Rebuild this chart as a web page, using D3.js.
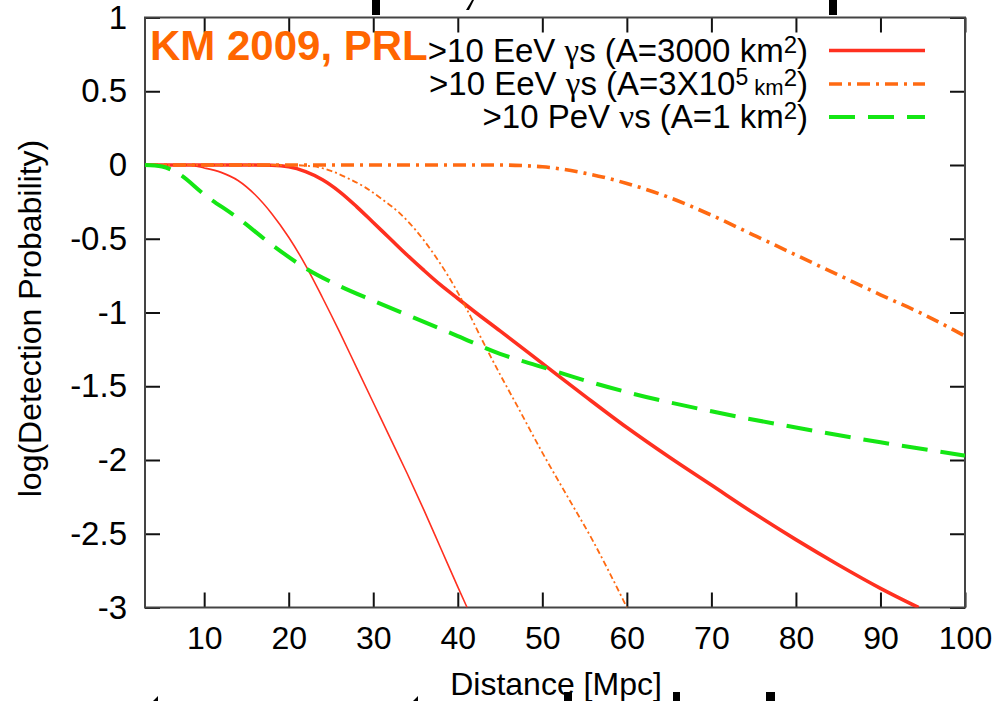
<!DOCTYPE html>
<html>
<head>
<meta charset="utf-8">
<script src="https://cdn.jsdelivr.net/npm/d3@7"></script>
<style>
  html, body { margin: 0; padding: 0; background: #fff; }
  svg { display: block; }
  text { font-family: "Liberation Sans", Arial, Helvetica, sans-serif; }
</style>
</head>
<body>
<svg id="chart" width="999" height="701"></svg>
<script>
// Axis ticks
const xTicks = [10, 20, 30, 40, 50, 60, 70, 80, 90, 100];
const yTicks = [1, 0.5, 0, -0.5, -1, -1.5, -2, -2.5, -3];

// >10 EeV gammas, A = 3000 km^2 (thick solid red)
const gamma3000X = [3, 10, 15, 18, 20, 22, 24, 26, 28, 30, 32, 34, 36, 38, 40, 42, 45, 50, 55, 60, 65, 70, 75, 80, 85, 90, 94.5];
const gamma3000Y = [0, 0, 0, -0.002, -0.012, -0.045, -0.1, -0.18, -0.28, -0.39, -0.5, -0.61, -0.715, -0.815, -0.905, -0.995, -1.125, -1.345, -1.565, -1.78, -1.98, -2.17, -2.36, -2.54, -2.71, -2.87, -3.0];

// companion thin solid red curve
const gammaThinX = [3, 8, 10, 12, 14, 16, 18, 20, 22, 24, 26, 28, 30, 32, 34, 36, 38, 40, 41.1];
const gammaThinY = [0, 0, -0.02, -0.05, -0.105, -0.2, -0.33, -0.49, -0.68, -0.9, -1.13, -1.37, -1.61, -1.85, -2.09, -2.34, -2.6, -2.86, -3.0];

// >10 EeV gammas, A = 3x10^5 km^2 (thick dash-dot orange)
const gamma3e5X = [3, 20, 40, 45, 48, 50, 55, 60, 65, 70, 75, 80, 85, 90, 95, 100];
const gamma3e5Y = [0, 0, 0, 0, -0.005, -0.012, -0.055, -0.125, -0.22, -0.34, -0.475, -0.61, -0.745, -0.88, -1.01, -1.16];

// companion thin dash-dot orange curve
const gammaThin3e5X = [3, 20, 23, 25, 27, 29, 31, 33, 35, 37, 39, 41, 43, 45, 47, 50, 53, 56, 58, 60];
const gammaThin3e5Y = [0, 0, -0.01, -0.04, -0.09, -0.15, -0.23, -0.32, -0.44, -0.59, -0.765, -0.97, -1.2, -1.42, -1.63, -1.95, -2.25, -2.55, -2.77, -3.0];

// >10 PeV neutrinos, A = 1 km^2 (dashed green)
const nuX = [3, 5, 7, 10, 14, 18, 22, 26, 30, 35, 40, 45, 50, 55, 60, 70, 80, 90, 100];
const nuY = [0, -0.01, -0.06, -0.2, -0.36, -0.54, -0.7, -0.82, -0.92, -1.04, -1.16, -1.28, -1.37, -1.46, -1.54, -1.67, -1.78, -1.88, -1.97];

const svg = d3.select("#chart");
const plotLeft = 145, plotRight = 965, plotTop = 17.5, plotBottom = 607.5;

const x = d3.scaleLinear().domain([3, 100]).range([plotLeft, plotRight]);
const y = d3.scaleLinear().domain([-3, 1]).range([plotBottom, plotTop]);

const FONT = 32;
const TICK = 15;

// clip region for the curves
svg.append("defs").append("clipPath").attr("id", "plotClip")
  .append("rect").attr("x", plotLeft).attr("y", plotTop)
  .attr("width", plotRight - plotLeft).attr("height", plotBottom - plotTop);

// axes with inward ticks on all four sides
function styleAxis(size) {
  return g => {
    g.select(".domain").remove();
    g.selectAll(".tick line").attr("stroke", "#111").attr("stroke-width", 2);
    g.selectAll(".tick text").attr("fill", "#000")
      .style("font-family", '"Liberation Sans", Arial, sans-serif')
      .style("font-size", size + "px");
  };
}

svg.append("g").attr("transform", `translate(0,${plotBottom})`)
  .call(d3.axisBottom(x).tickValues(xTicks).tickSize(-TICK).tickPadding(19).tickFormat(d3.format("d")))
  .call(styleAxis(FONT));
svg.append("g").attr("transform", `translate(0,${plotTop})`)
  .call(d3.axisTop(x).tickValues(xTicks).tickSize(-TICK).tickFormat(""))
  .call(styleAxis(FONT));
svg.append("g").attr("transform", `translate(${plotLeft},0)`)
  .call(d3.axisLeft(y).tickValues(yTicks).tickSize(-TICK).tickPadding(18).tickFormat(d => String(d)))
  .call(styleAxis(33));
svg.append("g").attr("transform", `translate(${plotRight},0)`)
  .call(d3.axisRight(y).tickValues(yTicks).tickSize(-TICK).tickFormat(""))
  .call(styleAxis(FONT));

// frame
svg.append("rect").attr("x", plotLeft).attr("y", plotTop)
  .attr("width", plotRight - plotLeft).attr("height", plotBottom - plotTop)
  .attr("fill", "none").attr("stroke", "#444").attr("stroke-width", 2);

// curves
const RED = "#ff3020", ORANGE = "#ff6a12", GREEN = "#14e614";
const series = [
  { xs: gamma3000X, ys: gamma3000Y, color: RED, width: 3.6, dash: null },
  { xs: gammaThinX, ys: gammaThinY, color: RED, width: 1.6, dash: null },
  { xs: gamma3e5X, ys: gamma3e5Y, color: ORANGE, width: 3.6, dash: "13,6,3,6" },
  { xs: gammaThin3e5X, ys: gammaThin3e5Y, color: ORANGE, width: 1.8, dash: "6,3,2,3" },
  { xs: nuX, ys: nuY, color: GREEN, width: 4, dash: "26,13" }
];

const line = d3.line().x(d => x(d[0])).y(d => y(d[1])).curve(d3.curveMonotoneX);
const plot = svg.append("g").attr("clip-path", "url(#plotClip)");
series.forEach(s => {
  plot.append("path")
    .datum(s.xs.map((v, i) => [v, s.ys[i]]))
    .attr("d", line)
    .attr("fill", "none")
    .attr("stroke", s.color)
    .attr("stroke-width", s.width)
    .attr("stroke-linejoin", "round")
    .attr("stroke-dasharray", s.dash);
});

// legend
const LEG = 33;
const legendRows = [
  { base: 61.5, color: RED, width: 3.6, dash: null },
  { base: 95, color: ORANGE, width: 3.6, dash: "13,6,3,6" },
  { base: 128, color: GREEN, width: 4, dash: "26,13" }
];
const textRight = 808, lineX0 = 829, lineX1 = 925;

function legendText(rowBase, parts) {
  const t = svg.append("text").attr("x", textRight).attr("y", rowBase)
    .attr("text-anchor", "end").attr("fill", "#000").style("font-size", LEG + "px");
  parts.forEach(p => {
    const ts = t.append("tspan").text(p.t);
    if (p.size) ts.style("font-size", p.size + "px");
    if (p.dy) ts.attr("dy", p.dy);
    if (p.serif) ts.style("font-family", '"Liberation Serif", "DejaVu Serif", serif');
  });
}

legendText(61.5, [
  { t: ">10 EeV " }, { t: "γ", serif: true }, { t: "s (A=3000 km" },
  { t: "2", size: 24, dy: -9 }, { t: ")", dy: 9 }
]);
legendText(95, [
  { t: ">10 EeV " }, { t: "γ", serif: true }, { t: "s (A=3X10" },
  { t: "5", size: 23, dy: -10 }, { t: " km", size: 22, dy: 10 },
  { t: "2", size: 24, dy: -9 }, { t: ")", dy: 9 }
]);
legendText(128, [
  { t: ">10 PeV " }, { t: "ν", serif: true }, { t: "s (A=1 km" },
  { t: "2", size: 24, dy: -9 }, { t: ")", dy: 9 }
]);

legendRows.forEach(r => {
  svg.append("line")
    .attr("x1", lineX0).attr("x2", lineX1)
    .attr("y1", r.base - 11).attr("y2", r.base - 11)
    .attr("stroke", r.color).attr("stroke-width", r.width)
    .attr("stroke-dasharray", r.dash);
});

// citation tag
svg.append("text").attr("x", 150).attr("y", 60)
  .attr("fill", "#ff6600").style("font-size", "42px").style("font-weight", "bold")
  .text("KM 2009, PRL");

// axis titles
svg.append("text")
  .attr("transform", `translate(41,${(plotTop + plotBottom) / 2 + 6}) rotate(-90)`)
  .attr("text-anchor", "middle").attr("fill", "#000").style("font-size", FONT + "px")
  .text("log(Detection Probability)");
svg.append("text").attr("x", (plotLeft + plotRight) / 2 + 1).attr("y", 695)
  .attr("text-anchor", "middle").attr("fill", "#000").style("font-size", FONT + "px")
  .text("Distance [Mpc]");

// edge pieces of the surrounding slide lettering
const edgeBits = [
  [372, 0, 8, 15], [829, 0, 8, 15],
  [564, 692, 8, 9], [673, 692, 7, 9], [766, 692, 9, 9]
];
svg.append("g").selectAll("rect").data(edgeBits).join("rect")
  .attr("x", d => d[0]).attr("y", d => d[1])
  .attr("width", d => d[2]).attr("height", d => d[3]).attr("fill", "#000");
svg.append("path").attr("d", "M466,10 L472,0 L474,0 L469,10 Z").attr("fill", "#000");
svg.append("path").attr("d", "M153,701 L158,696 L158,701 Z M413,701 L418,696 L418,701 Z").attr("fill", "#000");
</script>
</body>
</html>
